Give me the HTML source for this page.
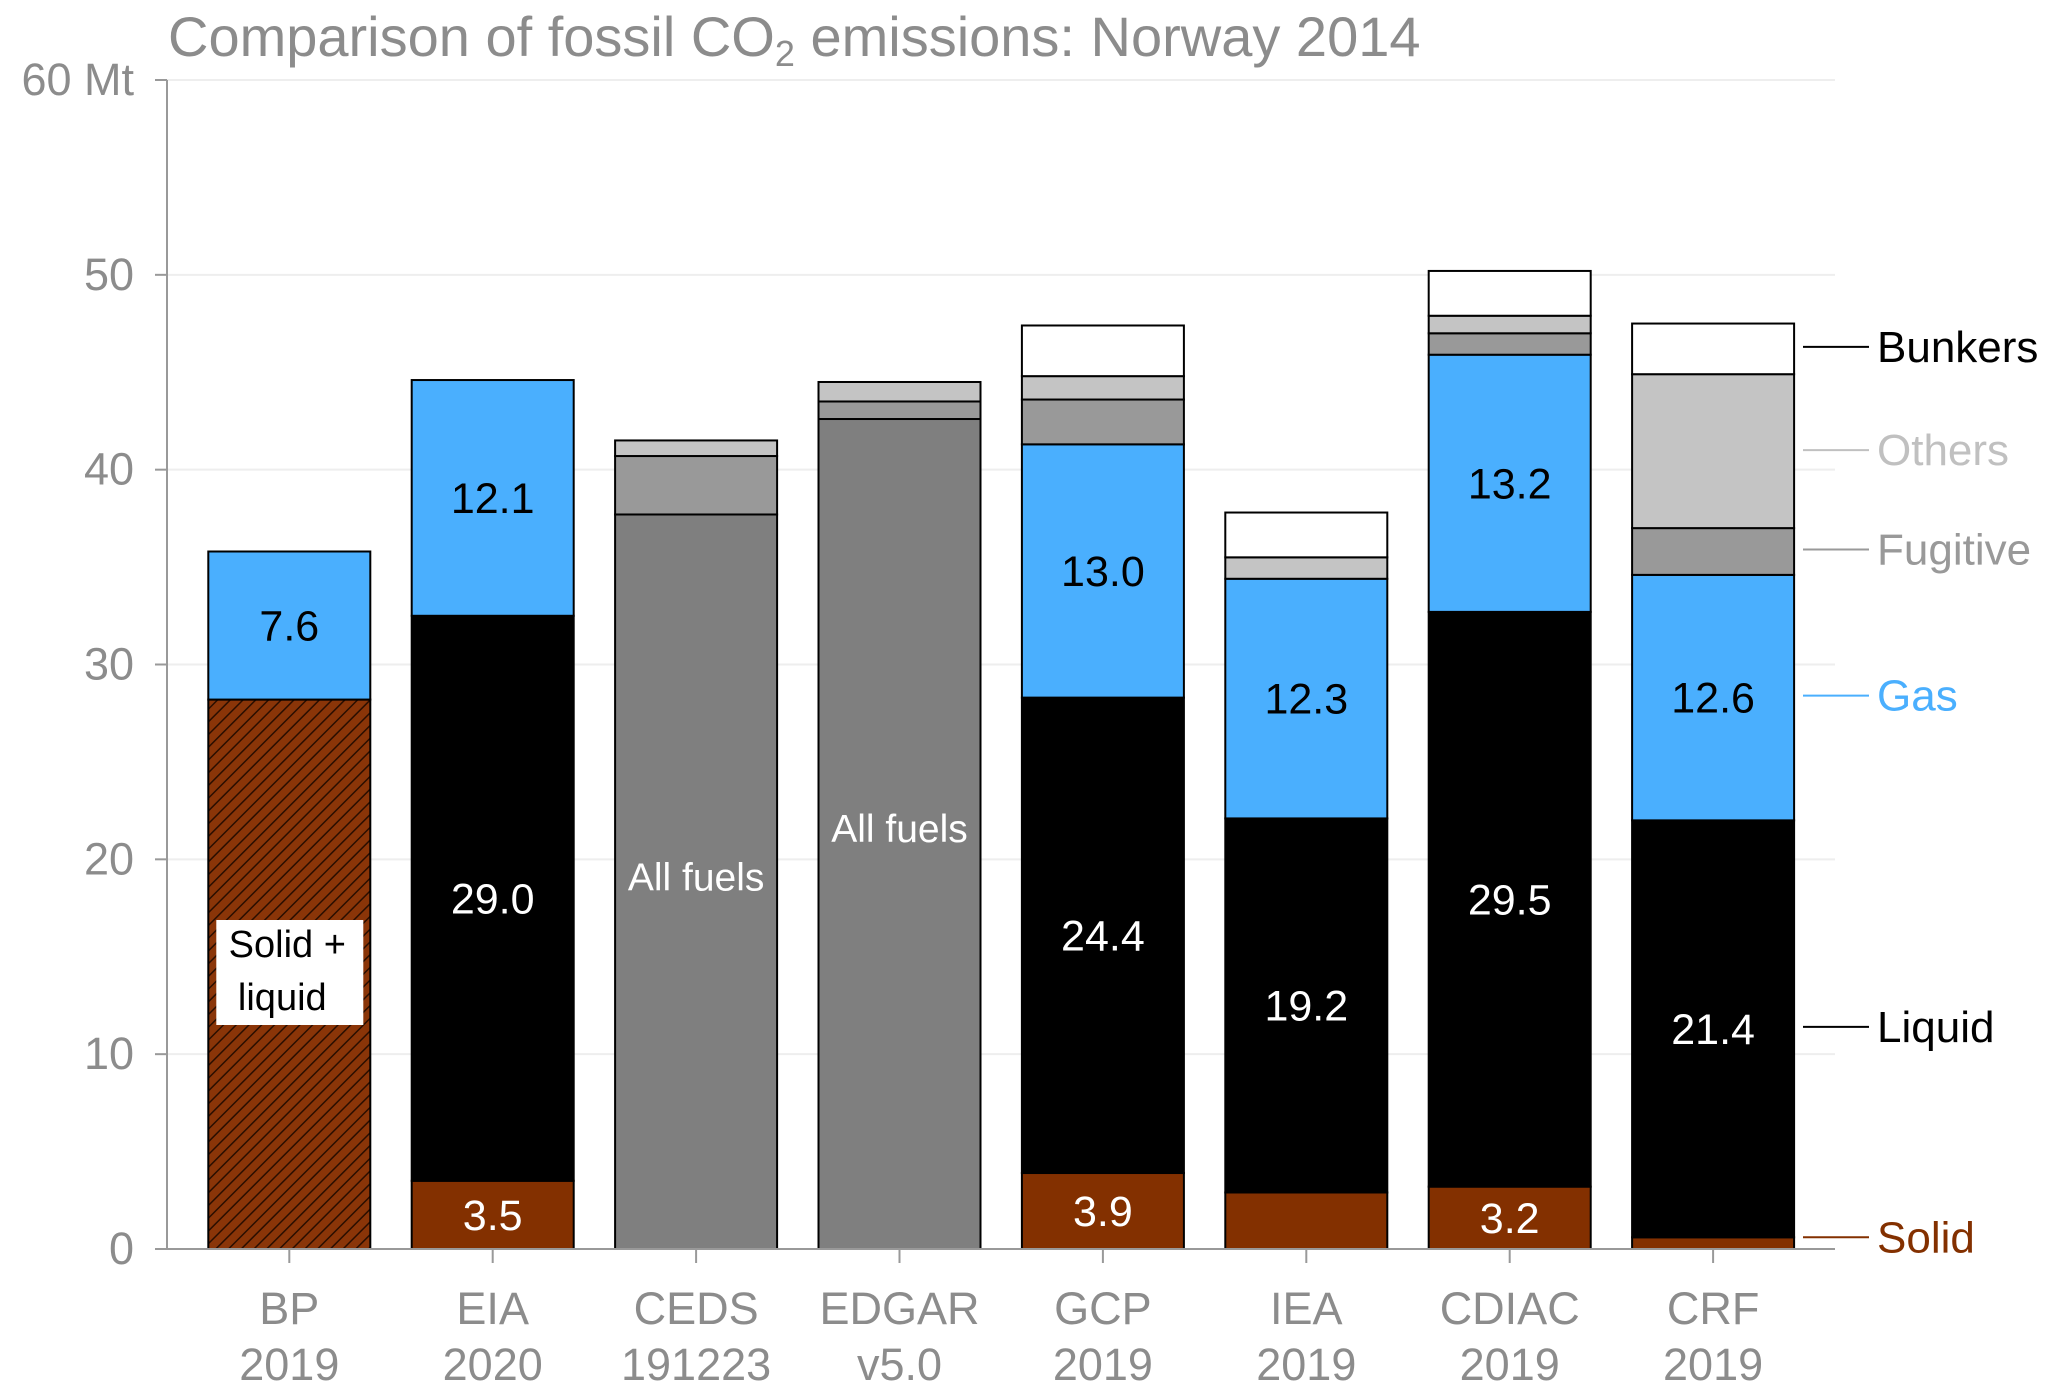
<!DOCTYPE html>
<html><head><meta charset="utf-8"><style>
html,body{margin:0;padding:0;background:#fff;}
svg{display:block;font-family:"Liberation Sans",Arial,sans-serif;}
</style></head><body>
<svg id="chart" width="2067" height="1398" viewBox="0 0 2067 1398" xmlns="http://www.w3.org/2000/svg">
<defs>
<pattern id="hatch" patternUnits="userSpaceOnUse" width="9" height="9" patternTransform="rotate(-45)">
<rect width="9" height="9" fill="#8a3508"/>
<line x1="0" y1="0" x2="9" y2="0" stroke="#2a0e00" stroke-width="3"/>
</pattern>
</defs>
<text x="168" y="56" font-size="56" fill="#8c8c8c">Comparison of fossil CO<tspan font-size="36" dy="10">2</tspan><tspan dy="-10"> emissions: Norway 2014</tspan></text>
<g id="grid"></g><g id="bars"></g><g id="axes"></g><g id="legend"></g>
</svg>
<script>
const categories = ["BP|2019","EIA|2020","CEDS|191223","EDGAR|v5.0","GCP|2019","IEA|2019","CDIAC|2019","CRF|2019"];
const solid    = [0,3.5,0,0,3.9,2.9,3.2,0.6];
const solidLiquid = [28.2,0,0,0,0,0,0,0];
const allFuels = [0,0,37.7,42.6,0,0,0,0];
const liquid   = [0,29.0,0,0,24.4,19.2,29.5,21.4];
const gas      = [7.6,12.1,0,0,13.0,12.3,13.2,12.6];
const fugitive = [0,0,3.0,0.9,2.3,0,1.1,2.4];
const others   = [0,0,0.8,1.0,1.2,1.1,0.9,7.9];
const bunkers  = [0,0,0,0,2.6,2.3,2.3,2.6];
const solidLabels  = ["","3.5","","","3.9","","3.2",""];
const liquidLabels = ["","29.0","","","24.4","19.2","29.5","21.4"];
const gasLabels    = ["7.6","12.1","","","13.0","12.3","13.2","12.6"];
const yTicks = [0,10,20,30,40,50,60];
const legendNames = ["Bunkers","Others","Fugitive","Gas","Liquid","Solid"];
const legendY = [46.3,41.0,35.9,28.4,11.4,0.6];

const NS="http://www.w3.org/2000/svg";
const X0=167, XEND=1835, Y0=1249, Y60=80;
const y = v => Y0 - v*(Y0-Y60)/60;
const barLeft = i => 208.3 + i*203.4;
const BW=162;
function mk(tag, attrs, parent){const e=document.createElementNS(NS,tag);for(const k in attrs)e.setAttribute(k,attrs[k]);parent.appendChild(e);return e;}
const grid=document.getElementById('grid'), bars=document.getElementById('bars'), axes=document.getElementById('axes'), legend=document.getElementById('legend');

yTicks.forEach(t=>{
  if(t>0){const g=mk('line',{x1:X0,x2:XEND,y1:y(t),y2:y(t),stroke:'#eeeeee','stroke-width':2},grid);
  
  }
  const tk=mk('line',{x1:X0-12,x2:X0,y1:y(t),y2:y(t),stroke:'#999','stroke-width':2},axes);
  
  
  const lb=mk('text',{x:134,y:y(t)+15,'text-anchor':'end','font-size':45,fill:'#8c8c8c'},axes);
  lb.textContent = t===60 ? '60 Mt' : String(t);
  
  
});

const segs=[
 [solid,'#833000','solid'],[solidLiquid,'url(#hatch)','solid-liquid'],[allFuels,'#7f7f7f','all-fuels'],
 [liquid,'#000000','liquid'],[gas,'#4aaffe','gas'],[fugitive,'#999999','fugitive'],[others,'#c4c4c4','others'],[bunkers,'#ffffff','bunkers']];
categories.forEach((c,i)=>{
  let base=0; const xl=barLeft(i); const cx=xl+BW/2;
  const bnds={};
  segs.forEach(([arr,col,nm])=>{
    const v=arr[i]; if(!v) return;
    const r=mk('rect',{x:xl,y:y(base+v),width:BW,height:y(base)-y(base+v),fill:col,stroke:'#000','stroke-width':2},bars);
    
    
    bnds[nm]=[base,base+v]; base+=v;
  });
  const lab=(txt,v,col)=>{ if(!txt) return; const t=mk('text',{x:cx,y:y(v)+15,'text-anchor':'middle','font-size':43,fill:col},bars); t.textContent=txt;
    
     };
  if(bnds.solid) lab(solidLabels[i],(bnds.solid[0]+bnds.solid[1])/2,'#fff');
  if(bnds.liquid) lab(liquidLabels[i],(bnds.liquid[0]+bnds.liquid[1])/2,'#fff');
  if(bnds.gas) lab(gasLabels[i],(bnds.gas[0]+bnds.gas[1])/2,'#000');
  if(bnds['all-fuels']){ const t=mk('text',{x:cx,y:y(bnds['all-fuels'][1]*0.5)+(i===2?9:8),'text-anchor':'middle','font-size':39,fill:'#fff'},bars); t.textContent='All fuels';
    
     }
  if(bnds['solid-liquid']){
    const bx=mk('rect',{x:xl+8,y:920,width:147,height:105,fill:'#fff'},bars);
    
    
    const t1=mk('text',{x:xl+79,y:957,'text-anchor':'middle','font-size':38,fill:'#000'},bars); t1.textContent='Solid +';
    
    
    const t2=mk('text',{x:xl+74,y:1010,'text-anchor':'middle','font-size':38,fill:'#000'},bars); t2.textContent='liquid';
    
    
  }
  const tk=mk('line',{x1:cx,x2:cx,y1:Y0,y2:Y0+14,stroke:'#999','stroke-width':2},axes);
  
  
  const [a,b]=c.split('|');
  const l1=mk('text',{x:cx,y:1324,'text-anchor':'middle','font-size':45,fill:'#8c8c8c'},axes); l1.textContent=a;
  
  
  const l2=mk('text',{x:cx,y:1380,'text-anchor':'middle','font-size':45,fill:'#8c8c8c'},axes); l2.textContent=b;
  
  
});
const ya=mk('line',{x1:X0,x2:X0,y1:Y60,y2:Y0,stroke:'#999','stroke-width':2},axes);


const xa=mk('line',{x1:X0,x2:XEND,y1:Y0,y2:Y0,stroke:'#999','stroke-width':2},axes);



const legendCols=['#000','#c0c0c0','#999','#4aaffe','#000','#833000'];
legendNames.forEach((n,i)=>{
  const yy=y(legendY[i]);
  const l=mk('line',{x1:1803,x2:1869,y1:yy,y2:yy,stroke:legendCols[i],'stroke-width':2},legend);
  
  
  const t=mk('text',{x:1877,y:yy+15,'font-size':44,fill:legendCols[i]},legend); t.textContent=n;
  
  
});
</script>
</body></html>
